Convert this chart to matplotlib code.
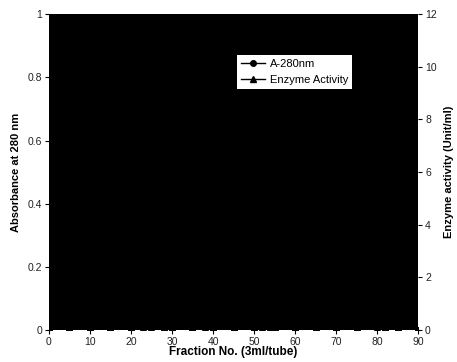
import matplotlib.pyplot as plt
from matplotlib import font_manager

# pick the regular (not narrow) Liberation Sans
fam = 'DejaVu Sans'
for f in font_manager.fontManager.ttflist:
    if f.name == 'Liberation Sans' and 'Narrow' not in f.fname:
        fam = 'Liberation Sans'
        break
plt.rcParams['font.family'] = [fam, 'DejaVu Sans']

# fractions (3 ml/tube)
fractions = [0, 5, 10, 15, 20, 23, 25, 28, 30, 35, 38, 40, 45, 50, 52, 54, 55, 60, 65, 70, 75, 80, 82, 85, 90]
# absorbance at 280 nm
a280 = [0.0, 0.0, 0.0, 0.0, 0.0, 0.01, 0.01, 0.0, 0.0, 0.0, 0.01, 0.0, 0.0, 0.0, 0.01, 0.01, 0.0, 0.0, 0.0, 0.0, 0.0, 0.01, 0.0, 0.0, 0.0]
# enzyme activity (unit/ml)
activity = [0.0, 0.0, 0.0, 0.0, 0.0, 0.1, 0.1, 0.0, 0.0, 0.0, 0.1, 0.0, 0.0, 0.0, 0.1, 0.1, 0.0, 0.0, 0.0, 0.0, 0.0, 0.1, 0.0, 0.0, 0.0]

x_ticks = [0, 10, 20, 30, 40, 50, 60, 70, 80, 90]
left_ticks = [0, 0.2, 0.4, 0.6, 0.8, 1]
left_labels = ['0', '0.2', '0.4', '0.6', '0.8', '1']
right_ticks = [0, 2, 4, 6, 8, 10, 12]

fig = plt.figure(figsize=(4.57, 3.62), dpi=100)
ax = fig.add_axes([0.107, 0.088, 0.808, 0.873])
ax.set_facecolor('black')

l1, = ax.plot(fractions, a280, color='black', marker='o', markersize=4, lw=1)
ax.set_xlim(0, 90)
ax.set_ylim(0, 1)
ax.set_xticks(x_ticks)
ax.set_yticks(left_ticks)
ax.set_yticklabels(left_labels)
ax.tick_params(labelsize=7.5, length=3, width=0.8, colors='black', labelcolor='#222222', pad=2)
ax.set_xlabel('Fraction No. (3ml/tube)', fontsize=8.5, fontweight='bold', labelpad=-1)
ax.set_ylabel('Absorbance at 280 nm', fontsize=8, fontweight='bold', labelpad=5)

ax2 = ax.twinx()
l2, = ax2.plot(fractions, activity, color='black', marker='^', markersize=5, lw=1)
ax2.set_ylim(0, 12)
ax2.set_yticks(right_ticks)
ax2.tick_params(labelsize=7.5, length=3, width=0.8, colors='black', labelcolor='#222222', pad=2)
ax2.set_ylabel('Enzyme activity (Unit/ml)', fontsize=8, fontweight='bold', labelpad=5)

for s in list(ax.spines.values()) + list(ax2.spines.values()):
    s.set_visible(False)

leg = ax.legend([l1, l2], ['A-280nm', 'Enzyme Activity'], loc='upper left',
                bbox_to_anchor=(0.494, 0.888), fontsize=8, frameon=True, fancybox=False,
                framealpha=1, edgecolor='white', borderpad=0.35, handlelength=2.2,
                handletextpad=0.4, labelspacing=0.55)
leg.get_frame().set_linewidth(0)

fig.savefig('out.png', dpi=100)
